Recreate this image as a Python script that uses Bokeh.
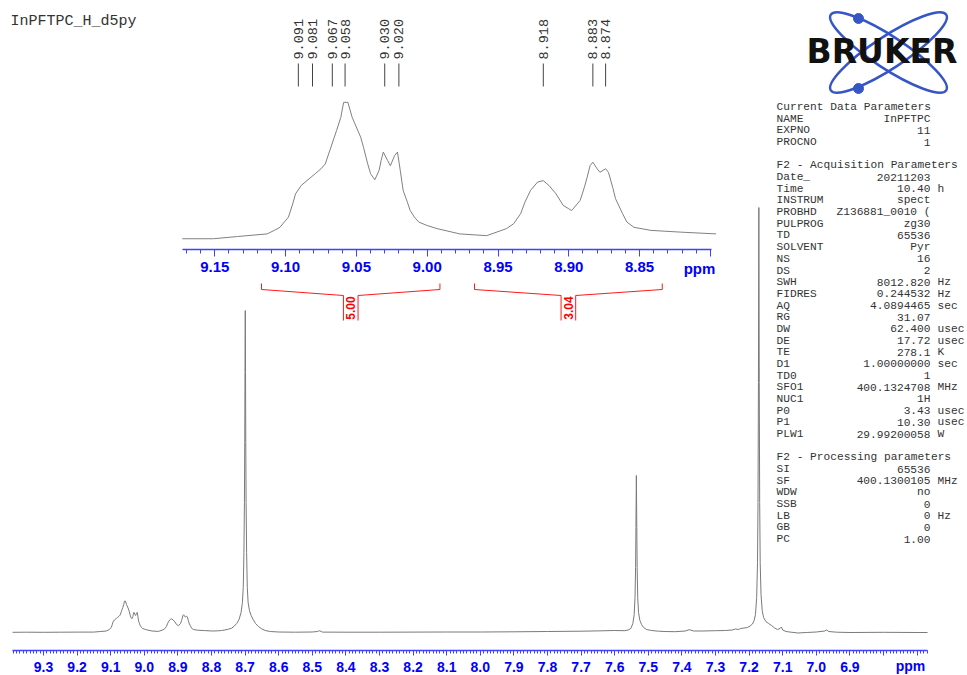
import numpy as np
from math import pi
from bokeh.plotting import figure
from bokeh.models import Range1d, LinearAxis, FixedTicker, Label, PrintfTickFormatter
from bokeh.core.properties import value
from bokeh.embed import file_html
from bokeh.resources import INLINE

# ---------------- data ----------------
TITLE = "InPFTPC_H_d5py"

PPM = [9.392, 9.350, 9.300, 9.250, 9.200, 9.173, 9.151, 9.134, 9.113, 9.108,
       9.104, 9.098, 9.095, 9.093, 9.089, 9.082, 9.079, 9.075, 9.072, 9.068,
       9.066, 9.064, 9.061, 9.059, 9.056, 9.053, 9.051, 9.047, 9.045, 9.042,
       9.040, 9.037, 9.034, 9.0325, 9.031, 9.028, 9.026, 9.023, 9.021, 9.019,
       9.017, 9.014, 9.012, 9.009, 9.006, 9.000, 8.993, 8.977, 8.958, 8.944,
       8.939, 8.934, 8.931, 8.927, 8.922, 8.918, 8.914, 8.909, 8.904, 8.900,
       8.898, 8.892, 8.889, 8.887, 8.885, 8.883, 8.880, 8.878, 8.874, 8.872,
       8.869, 8.867, 8.862, 8.859, 8.854, 8.842, 8.821, 8.796, 8.780, 8.770,
       8.760, 8.750, 8.740, 8.732, 8.725, 8.718, 8.712, 8.708, 8.7055, 8.7035,
       8.702, 8.701, 8.7003, 8.6995, 8.6987, 8.698, 8.697, 8.6955, 8.6935, 8.691,
       8.687, 8.682, 8.676, 8.669, 8.660, 8.650, 8.640, 8.625, 8.600, 8.550,
       8.500, 8.485, 8.478, 8.470, 8.400, 8.300, 8.200, 8.100, 8.000, 7.900,
       7.800, 7.700, 7.650, 7.600, 7.570, 7.560, 7.552, 7.546, 7.542, 7.5395,
       7.5378, 7.5368, 7.5355, 7.5342, 7.5332, 7.5315, 7.529, 7.525, 7.520, 7.514,
       7.505, 7.490, 7.470, 7.450, 7.420, 7.390, 7.378, 7.365, 7.340, 7.300,
       7.270, 7.250, 7.240, 7.232, 7.225, 7.215, 7.205, 7.197, 7.190, 7.185,
       7.181, 7.1775, 7.175, 7.1735, 7.1722, 7.171, 7.1698, 7.1685, 7.167, 7.1645,
       7.161, 7.157, 7.150, 7.142, 7.133, 7.124, 7.115, 7.108, 7.104, 7.100,
       7.090, 7.075, 7.055, 7.030, 7.000, 6.975, 6.969, 6.963, 6.940, 6.900,
       6.800, 6.700, 6.669]

INTENSITY = [0.2, 0.3, 0.2, 0.3, 0.4, 0.4, 0.4, 0.9, 1.5, 2.3,
             3.0, 5.3, 8.3, 10.6, 12.5, 14.4, 15.2, 16.3, 17.4, 21.2,
             23.1, 25.0, 28.0, 31.4, 31.4, 28.0, 26.5, 23.5, 21.2, 17.4,
             15.2, 13.8, 15.9, 18.2, 20.1, 18.2, 17.0, 19.3, 20.1, 15.9,
             11.4, 8.7, 6.8, 5.3, 4.2, 3.4, 2.7, 1.5, 1.1, 2.7,
             3.8, 6.1, 8.7, 11.4, 13.3, 13.6, 12.5, 10.6, 8.0, 7.2,
             6.8, 9.1, 12.1, 14.4, 17.0, 17.8, 16.3, 15.5, 16.3, 15.5,
             12.1, 9.5, 6.1, 4.2, 3.0, 2.3, 1.9, 1.5, 1.7, 2.0,
             2.5, 3.3, 4.3, 6.5, 9.0, 13.0, 20.0, 30.0, 45.0, 80.0,
             130.0, 190.0, 260.0, 322.0, 260.0, 190.0, 130.0, 80.0, 45.0, 30.0,
             22.0, 17.0, 13.0, 9.0, 6.0, 3.5, 2.0, 1.0, 0.5, 0.3,
             0.5, 1.0, 1.8, 0.4, 0.3, 0.3, 0.4, 0.5, 0.5, 0.7,
             1.0, 1.3, 1.6, 2.0, 1.8, 2.5, 4.0, 9.0, 18.0, 35.0,
             65.0, 105.0, 157.0, 105.0, 65.0, 35.0, 20.0, 12.0, 8.0, 5.0,
             3.0, 2.0, 1.3, 1.0, 0.8, 1.5, 2.8, 1.5, 1.5, 1.8,
             2.0, 2.5, 3.5, 3.0, 4.0, 4.5, 5.0, 6.5, 8.5, 12.0,
             18.0, 35.0, 70.0, 130.0, 250.0, 425.0, 250.0, 130.0, 70.0, 38.0,
             22.0, 15.0, 11.0, 9.0, 7.0, 4.5, 3.0, 4.0, 5.5, 2.5,
             1.0, 0.3, -0.5, 0.0, 0.5, 1.5, 2.5, 1.0, 0.3, 0.0,
             0.2, 0.0, 0.0]

PEAK_PPM = [9.091, 9.081, 9.067, 9.058, 9.030, 9.020, 8.918, 8.883, 8.874]

INTEGRAL_FROM = [9.117, 8.9666]
INTEGRAL_TO = [8.991, 8.834]
INTEGRAL_VALUES = ["5.00", "3.04"]

MAIN_TICKS = [9.3, 9.2, 9.1, 9.0, 8.9, 8.8, 8.7, 8.6, 8.5, 8.4, 8.3, 8.2, 8.1,
              8.0, 7.9, 7.8, 7.7, 7.6, 7.5, 7.4, 7.3, 7.2, 7.1, 7.0, 6.9, 6.8, 6.7]
MAIN_UNLABELLED = [6.8, 6.7]
INSET_TICKS = [9.15, 9.10, 9.05, 9.00, 8.95, 8.90, 8.85, 8.80]
INSET_UNLABELLED = [8.80]
INSET_WINDOW = (8.796, 9.173)
UNIT_LABEL = "ppm"

PARAM_NAMES = ["Current Data Parameters", "NAME", "EXPNO", "PROCNO", "",
               "F2 - Acquisition Parameters", "Date_", "Time", "INSTRUM", "PROBHD",
               "PULPROG", "TD", "SOLVENT", "NS", "DS", "SWH", "FIDRES", "AQ", "RG",
               "DW", "DE", "TE", "D1", "TD0", "SFO1", "NUC1", "P0", "P1", "PLW1", "",
               "F2 - Processing parameters", "SI", "SF", "WDW", "SSB", "LB", "GB", "PC"]
PARAM_VALUES = ["", "InPFTPC", "11", "1", "",
                "", "20211203", "10.40", "spect", "Z136881_0010 (",
                "zg30", "65536", "Pyr", "16", "2", "8012.820", "0.244532", "4.0894465", "31.07",
                "62.400", "17.72", "278.1", "1.00000000", "1", "400.1324708", "1H", "3.43", "10.30",
                "29.99200058", "",
                "", "65536", "400.1300105", "no", "0", "0", "0", "1.00"]
PARAM_UNITS = ["", "", "", "", "",
               "", "", "h", "", "",
               "", "", "", "", "", "Hz", "Hz", "sec", "",
               "usec", "usec", "K", "sec", "", "MHz", "", "usec", "usec", "W", "",
               "", "", "MHz", "", "", "Hz", "", ""]

# ---------------- layout (page pixels) ----------------
W, H = 967, 675
FL, FR, FT, FB = 0.0, 967.0, 0.0, 675.0

MAIN_PPM0, MAIN_PX0, MAIN_PXPP = 9.3, 43.0, 336.0
MAIN_BASE_PY, MAIN_PEAK_PY, MAIN_PEAK_H = 632.0, 207.0, 425.0
MAIN_PX_PER_UNIT = (MAIN_BASE_PY - MAIN_PEAK_PY) / MAIN_PEAK_H
MAIN_AXIS_PY = 650.0

INSET_PPM0, INSET_PX0, INSET_PXPP = 9.15, 214.3, 1416.0
INSET_BASE_PY, INSET_PX_PER_UNIT = 240.0, 4.4
INSET_AXIS_PY = 249.3


def main_ppm(px):
    return MAIN_PPM0 - (px - MAIN_PX0) / MAIN_PXPP


def main_h(py):
    return (MAIN_BASE_PY - py) / MAIN_PX_PER_UNIT


def inset_ppm(px):
    return INSET_PPM0 - (px - INSET_PX0) / INSET_PXPP


def inset_h(py):
    return (INSET_BASE_PY - py) / INSET_PX_PER_UNIT


AXIS_BLUE = "#4040ff"
LABEL_BLUE = "#0000ff"
SPEC_GRAY = "#7a7a7a"
TEXT_GRAY = "#333333"
RED = "#ff1a1a"
LOGO_BLUE = "#3656c8"

p = figure(width=W, height=H,
           x_range=Range1d(main_ppm(FL), main_ppm(FR)),
           y_range=Range1d(main_h(FB), main_h(FT)),
           output_backend="svg", toolbar_location=None,
           x_axis_location=None, y_axis_location=None,
           min_border=0, outline_line_color=None,
           background_fill_color="white", border_fill_color="white")
p.grid.visible = False

p.extra_x_ranges = {"inset": Range1d(inset_ppm(FL), inset_ppm(FR)),
                    "px": Range1d(FL, FR)}
p.extra_y_ranges = {"inset": Range1d(inset_h(FB), inset_h(FT)),
                    "px": Range1d(FB, FT)}

ppm = np.array(PPM)
inten = np.array(INTENSITY)

# main spectrum
p.line(ppm, inten, line_color=SPEC_GRAY, line_width=1)

# inset spectrum
mask = (ppm >= INSET_WINDOW[0]) & (ppm <= INSET_WINDOW[1])
p.line(ppm[mask], inten[mask], line_color="#808080", line_width=1,
       x_range_name="inset", y_range_name="inset")

axis_style = dict(axis_line_color=AXIS_BLUE, axis_line_width=1.5,
                  major_tick_line_color=AXIS_BLUE, minor_tick_line_color=AXIS_BLUE,
                  major_tick_in=0, minor_tick_in=0,
                  major_label_text_font="Liberation Sans",
                  major_label_text_font_style="bold",
                  major_label_text_color=LABEL_BLUE)

# main axis
main_minor = [round(9.39 - 0.01 * i, 2) for i in range(273)]
main_axis = LinearAxis(
    y_range_name="px", fixed_location=MAIN_AXIS_PY,
    ticker=FixedTicker(ticks=MAIN_TICKS, minor_ticks=main_minor),
    formatter=PrintfTickFormatter(format="%.1f"),
    bounds=(main_ppm(927), main_ppm(12)),
    major_label_overrides={t: "" for t in MAIN_UNLABELLED},
    major_tick_out=5, minor_tick_out=3, major_label_standoff=6,
    major_label_text_font_size="14px", **axis_style)
p.add_layout(main_axis, "below")

# inset axis
inset_minor = [round(9.17 - 0.01 * i, 2) for i in range(38)]
inset_axis = LinearAxis(
    x_range_name="inset", y_range_name="px", fixed_location=INSET_AXIS_PY,
    ticker=FixedTicker(ticks=INSET_TICKS, minor_ticks=inset_minor),
    formatter=PrintfTickFormatter(format="%.2f"),
    bounds=(inset_ppm(711), inset_ppm(182)),
    major_label_overrides={t: "" for t in INSET_UNLABELLED},
    major_tick_out=7, minor_tick_out=4, major_label_standoff=5,
    major_label_text_font_size="15px", **axis_style)
p.add_layout(inset_axis, "below")

p.add_layout(Label(x=910, y=665, text=UNIT_LABEL, x_range_name="px", y_range_name="px",
                   text_align="center", text_baseline="middle",
                   text_font="Liberation Sans", text_font_style="bold",
                   text_font_size="14px", text_color=LABEL_BLUE))
p.add_layout(Label(x=699, y=268, text=UNIT_LABEL, x_range_name="px", y_range_name="px",
                   text_align="center", text_baseline="middle",
                   text_font="Liberation Sans", text_font_style="bold",
                   text_font_size="15px", text_color=LABEL_BLUE))

# peak labels
p.segment(x0=PEAK_PPM, y0=63, x1=PEAK_PPM, y1=86, line_color="#444444", line_width=1,
          x_range_name="inset", y_range_name="px")
p.text(x=PEAK_PPM, y=59, text=[f"{v:.3f}" for v in PEAK_PPM], angle=pi / 2,
       x_range_name="inset", y_range_name="px",
       text_align="left", text_baseline="middle",
       text_font=value("Liberation Mono"), text_font_size="13.5px", text_color=TEXT_GRAY)

# integrals
hg = 7.3 / INSET_PXPP
xs, ys = [], []
for a, b in zip(INTEGRAL_FROM, INTEGRAL_TO):
    mid = (a + b) / 2
    xs.append([a, a, mid + hg, mid + hg])
    ys.append([283, 289, 295, 320])
    xs.append([b, b, mid - hg, mid - hg])
    ys.append([283, 289, 295, 320])
p.multi_line(xs, ys, line_color=RED, line_width=1,
             x_range_name="inset", y_range_name="px")
mids = [(a + b) / 2 for a, b in zip(INTEGRAL_FROM, INTEGRAL_TO)]
p.text(x=mids, y=307.5, text=INTEGRAL_VALUES, angle=pi / 2,
       x_range_name="inset", y_range_name="px",
       text_align="center", text_baseline="middle",
       text_font=value("Liberation Sans"), text_font_style="bold",
       text_font_size="12px", text_color="#ff0000")

# title
p.text(x=10, y=21, text=[TITLE], x_range_name="px", y_range_name="px",
       text_align="left", text_baseline="middle",
       text_font=value("Liberation Mono"), text_font_size="15px", text_color=TEXT_GRAY)

# logo
p.ellipse(x=[888, 888], y=[52, 52], width=138, height=32, angle=[0.58, -0.58],
          x_range_name="px", y_range_name="px",
          fill_color=None, line_color=LOGO_BLUE, line_width=2.5)
p.scatter(x=[858, 858], y=[18, 88], size=10, color=LOGO_BLUE,
          x_range_name="px", y_range_name="px")
p.text(x=881.5, y=51, text=["BRUKER"], x_range_name="px", y_range_name="px",
       text_align="center", text_baseline="middle",
       text_font=value("DejaVu Sans"), text_font_style="bold",
       text_font_size="33px", text_color="#111111")

# parameter block
py = [106.5 + 11.68 * i for i in range(len(PARAM_NAMES))]
common = dict(x_range_name="px", y_range_name="px", text_baseline="middle",
              text_font=value("Liberation Mono"), text_font_size="11.2px",
              text_color=TEXT_GRAY)
p.text(x=776, y=py, text=PARAM_NAMES, text_align="left", **common)
p.text(x=930, y=py, text=PARAM_VALUES, text_align="right", **common)
p.text(x=937, y=py, text=PARAM_UNITS, text_align="left", **common)

open("out.html", "w").write(file_html(p, INLINE))
